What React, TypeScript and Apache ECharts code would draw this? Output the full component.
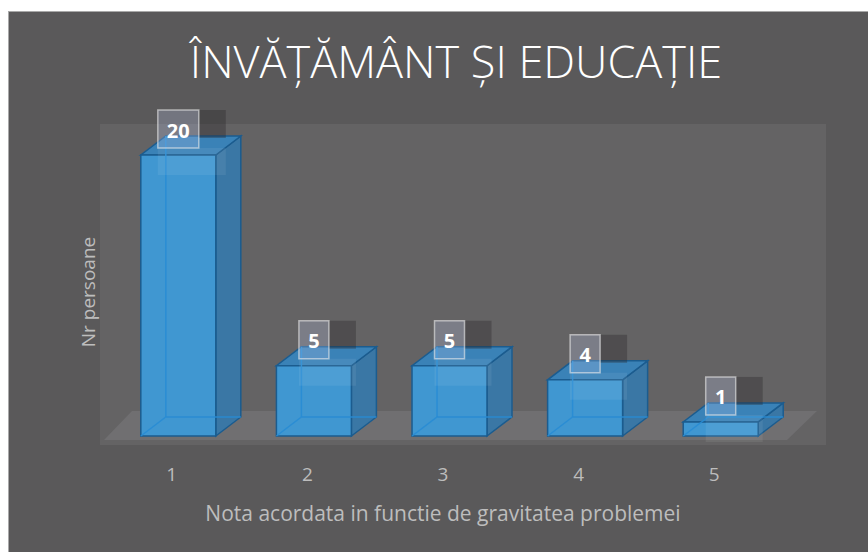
import React, { useEffect, useRef } from "react";
import * as echarts from "echarts";

const categories = ["1", "2", "3", "4", "5"];
const values = [20, 5, 5, 4, 1];
const titleText = "ÎNVĂȚĂMÂNT ȘI EDUCAȚIE";
const xAxisTitle = "Nota acordata in functie de gravitatea problemei";
const yAxisTitle = "Nr persoane";

const FONT = "'Open Sans', 'Noto Sans', sans-serif";

export default function App() {
  const ref = useRef<HTMLDivElement>(null);
  useEffect(() => {
    document.body.style.overflow = "hidden";
    const chart = echarts.init(ref.current!, null, { renderer: "svg" });
    const dx = 25;
    const dy = -19;
    const renderItem = (params: any, api: any) => {
      const idx = api.value(0);
      const val = api.value(1);
      const top = api.coord([idx, val]);
      const base = api.coord([idx, 0]);
      const band = api.size([1, 0])[0];
      const w = band * 0.553;
      const cx = top[0] + band * 0.048;
      const L = cx - w / 2;
      const R = cx + w / 2;
      const T = top[1];
      const B = base[1];
      const edge = "#1b5c8f";
      const txt = String(val);
      const bw = 19 + 11 * txt.length;
      const bh = 38;
      const bx = cx - bw / 2;
      const by = T - 7 - bh;
      return {
        type: "group",
        children: [
          {
            type: "polygon",
            shape: { points: [[R, B], [R + dx, B + dy], [R + dx, T + dy], [R, T]] },
            style: { fill: "#3a77a5", stroke: edge, lineWidth: 1.5 },
          },
          {
            type: "polygon",
            shape: { points: [[L, T], [R, T], [R + dx, T + dy], [L + dx, T + dy]] },
            style: { fill: "#3a82b7", stroke: edge, lineWidth: 1.5 },
          },
          {
            type: "rect",
            shape: { x: L, y: T, width: w, height: B - T },
            style: { fill: "#4097d1", stroke: edge, lineWidth: 1.5 },
          },
          {
            type: "polyline",
            shape: { points: [[L, B], [L + dx, B + dy], [R + dx, B + dy]] },
            style: { stroke: "rgba(40,140,212,0.9)", lineWidth: 1.5, fill: null },
          },
          {
            type: "line",
            shape: { x1: L + dx, y1: B + dy, x2: L + dx, y2: T + dy },
            style: { stroke: "rgba(40,140,212,0.9)", lineWidth: 1.5 },
          },
          {
            type: "rect",
            shape: { x: bx + bw, y: by, width: 27, height: bh - 10 },
            style: { fill: "rgba(40,38,40,0.35)" },
          },
          {
            type: "rect",
            shape: { x: bx, y: by + bh, width: bw + 27, height: 27 },
            style: { fill: "rgba(255,255,255,0.07)" },
          },
          {
            type: "rect",
            shape: { x: bx, y: by, width: bw, height: bh },
            style: { fill: "rgba(190,205,240,0.25)", stroke: "rgba(235,235,235,0.6)", lineWidth: 1.5 },
          },
          {
            type: "text",
            x: cx,
            y: by + bh / 2 + 1,
            style: {
              text: txt,
              fill: "#ffffff",
              font: `bold 20px ${FONT}`,
              align: "center",
              verticalAlign: "middle",
            },
          },
        ],
      };
    };
    chart.setOption({
      animation: false,
      backgroundColor: "#ffffff",
      graphic: [
        { type: "rect", z: -10, shape: { x: 8, y: 11, width: 860, height: 541 }, style: { fill: "#a9a9a9" } },
        { type: "rect", z: -10, shape: { x: 9, y: 12, width: 859, height: 540 }, style: { fill: "#5a595a" } },
        { type: "rect", z: -10, shape: { x: 100, y: 124, width: 726, height: 321 }, style: { fill: "#646364" } },
        {
          type: "polygon",
          z: -10,
          shape: { points: [[104, 440], [132, 411], [817, 411], [787, 440]] },
          style: { fill: "#706f71" },
        },
        {
          type: "text",
          x: 88,
          y: 292,
          rotation: Math.PI / 2,
          style: {
            text: yAxisTitle,
            fill: "#bdbdbd",
            font: `19px ${FONT}`,
            align: "center",
            verticalAlign: "middle",
          },
        },
        {
          type: "text",
          x: 456,
          y: 60,
          style: {
            text: titleText,
            fill: "#ffffff",
            font: `300 45px ${FONT}`,
            align: "center",
            verticalAlign: "middle",
          },
        },
      ],
      grid: { left: 104, right: 86, top: 155, bottom: 116 },
      xAxis: {
        type: "category",
        data: categories,
        axisLine: { show: false },
        axisTick: { show: false },
        axisLabel: { color: "#bdbdbd", fontSize: 19, margin: 28, fontFamily: FONT },
        name: xAxisTitle,
        nameLocation: "middle",
        nameGap: 66,
        nameTextStyle: { color: "#bdbdbd", fontSize: 21, fontFamily: FONT },
      },
      yAxis: {
        type: "value",
        min: 0,
        max: 20,
        show: false,
      },
      series: [
        {
          type: "custom",
          renderItem,
          data: values.map((v, i) => [i, v]),
          z: 5,
        },
      ],
    });
    return () => chart.dispose();
  }, []);
  return (
    <div style={{ position: "absolute", left: 0, top: 0, width: 868, height: 552 }}>
      <div ref={ref} style={{ width: 868, height: 552 }} />
    </div>
  );
}
